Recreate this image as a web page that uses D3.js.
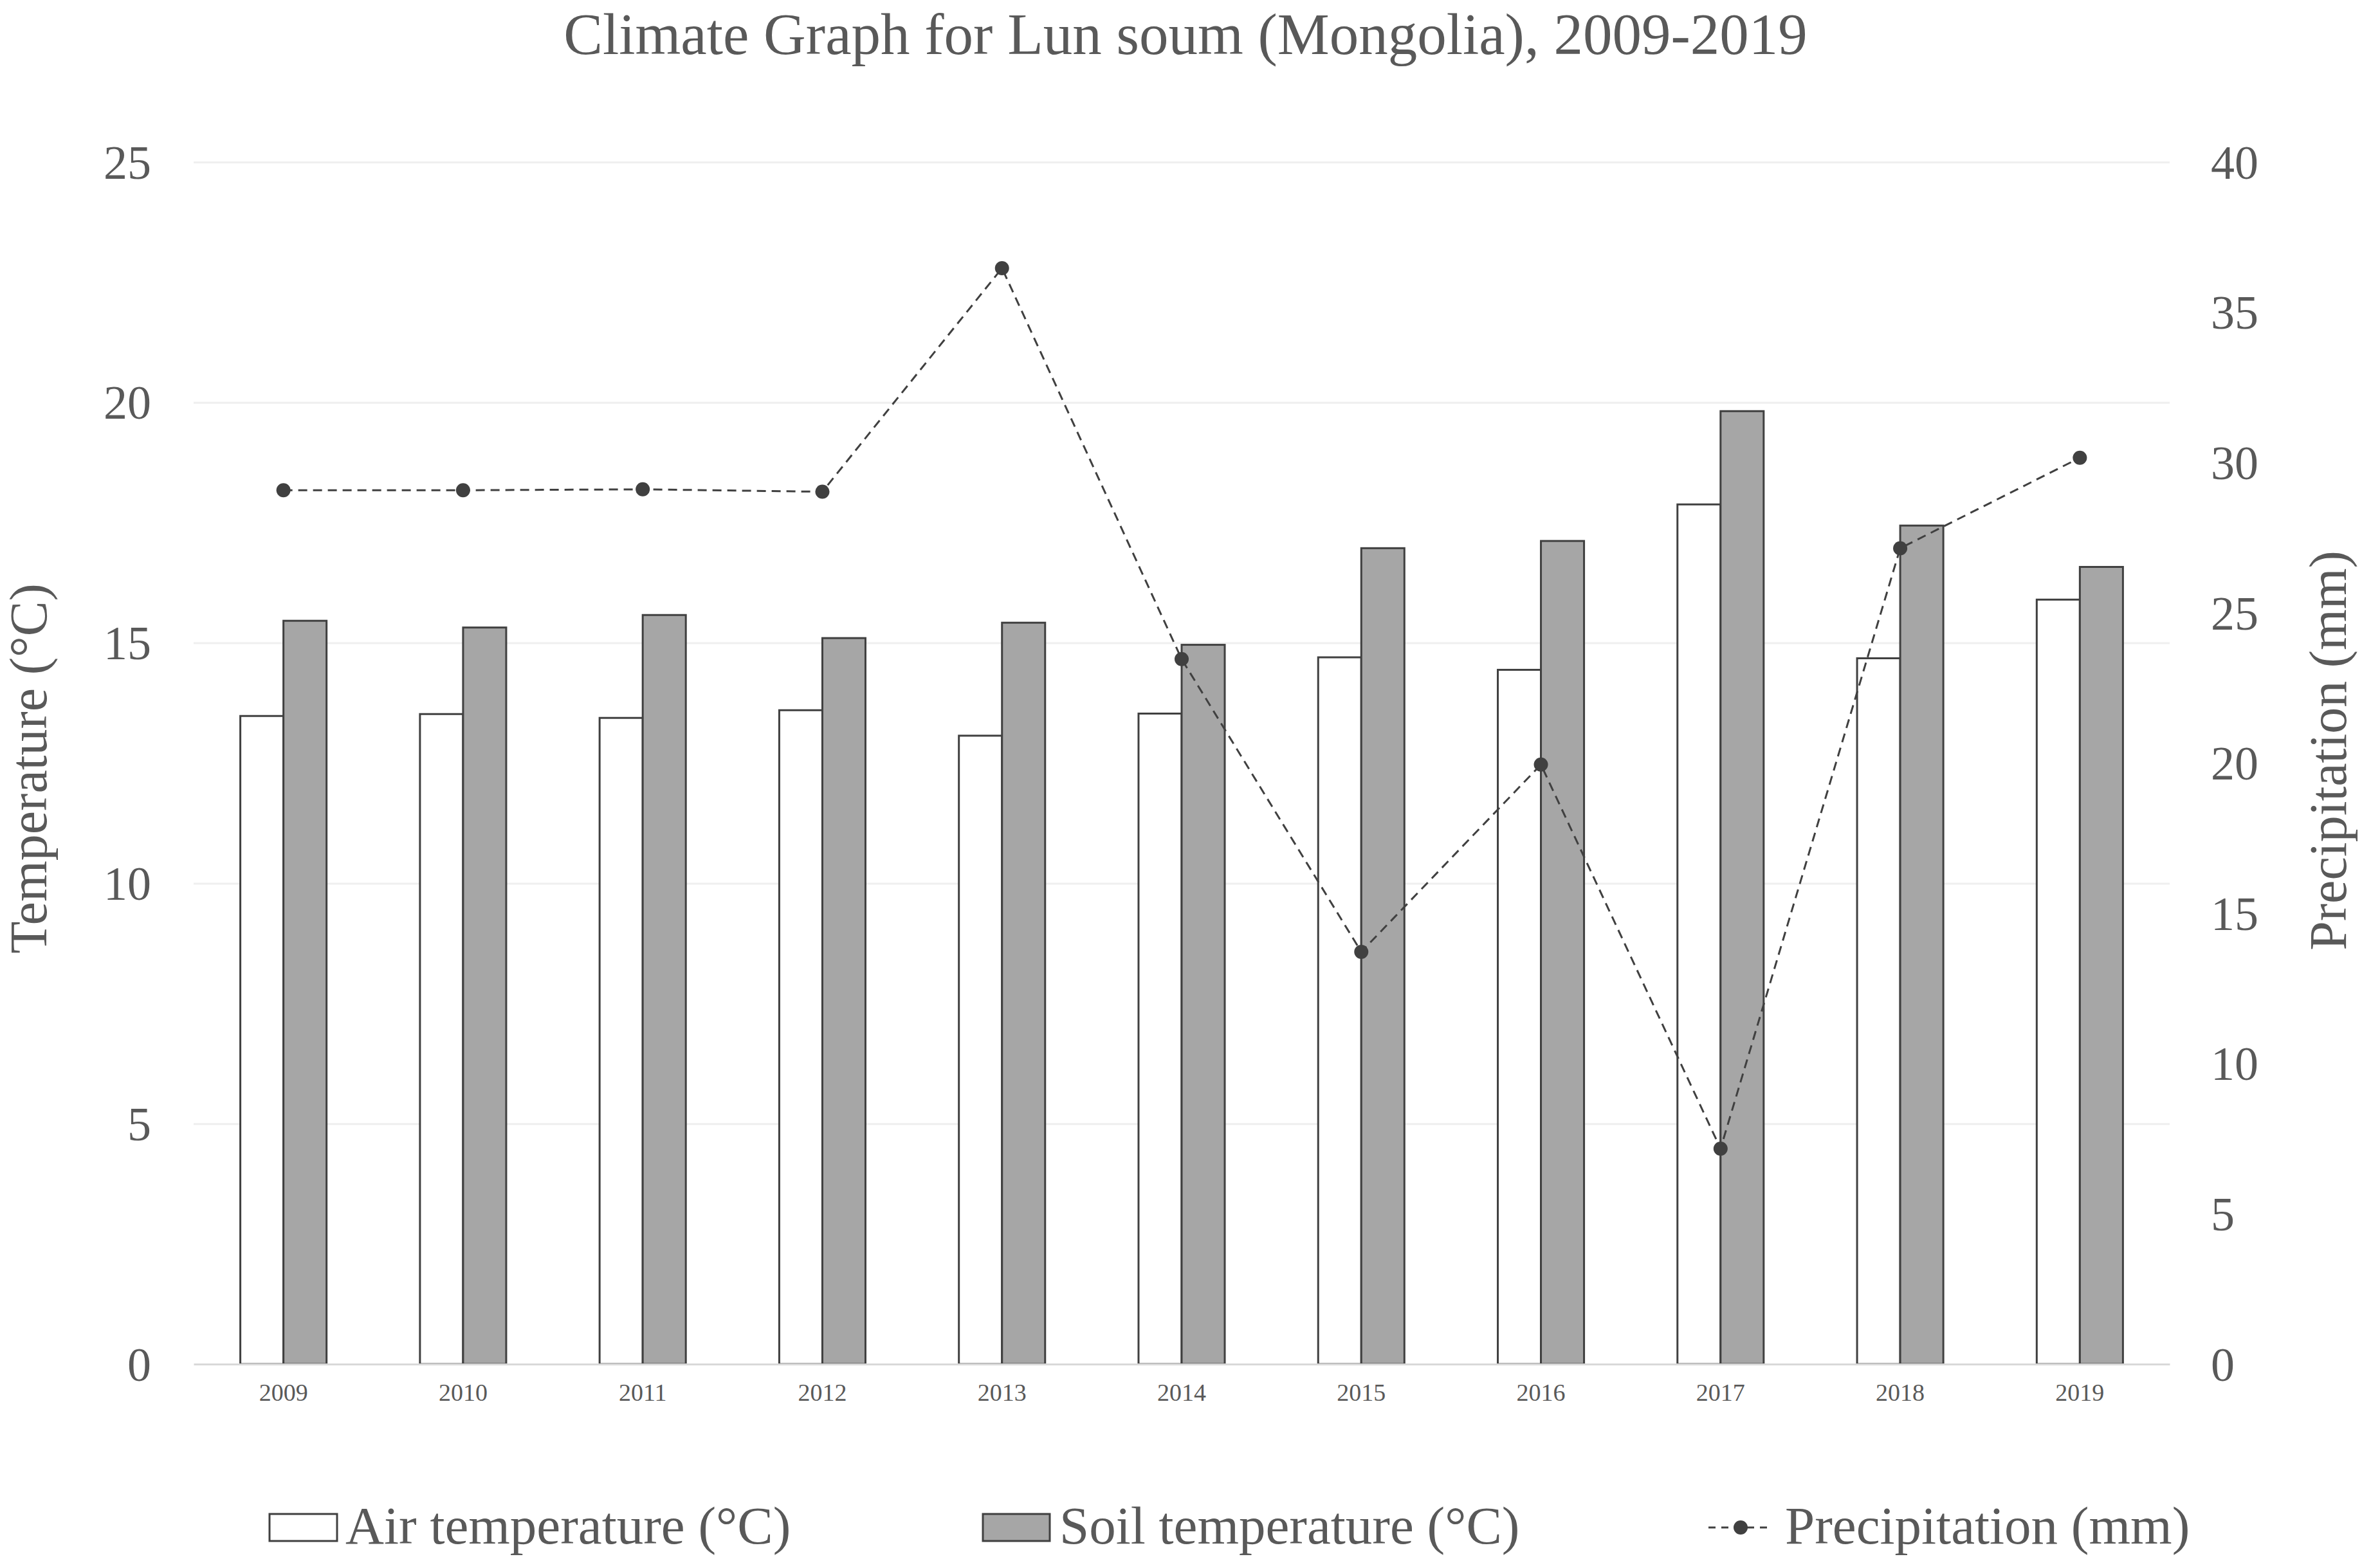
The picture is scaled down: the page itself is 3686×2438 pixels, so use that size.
<!DOCTYPE html>
<html>
<head>
<meta charset="utf-8">
<script src="https://cdn.jsdelivr.net/npm/d3@7"></script>
<style>
  html, body { margin: 0; padding: 0; background: #fff; }
  svg { display: block; }
  text { font-family: "Liberation Serif", "Times New Roman", serif; fill: #595959; }
</style>
</head>
<body>
<svg id="chart" width="3686" height="2438"></svg>
<script>
// ---- Data ----
const years = ["2009","2010","2011","2012","2013","2014","2015","2016","2017","2018","2019"];
const airTemp = [13.48, 13.52, 13.44, 13.60, 13.07, 13.53, 14.70, 14.44, 17.88, 14.68, 15.90];
const soilTemp = [15.46, 15.32, 15.58, 15.10, 15.42, 14.96, 16.97, 17.12, 19.82, 17.44, 16.58];
const precipitation = [29.08, 29.08, 29.11, 29.03, 36.47, 23.46, 13.72, 19.95, 7.17, 27.15, 30.16];
const tempTicks = [0, 5, 10, 15, 20, 25];
const precipTicks = [0, 5, 10, 15, 20, 25, 30, 35, 40];
const titleText = "Climate Graph for Lun soum (Mongolia), 2009-2019";
const leftAxisTitle = "Temperature (°C)";
const rightAxisTitle = "Precipitation (mm)";
const legendLabels = ["Air temperature (°C)", "Soil temperature (°C)", "Precipitation (mm)"];

// ---- Layout ----
const W = 3686, H = 2438;
const plotL = 301, plotR = 3373, plotT = 252, plotB = 2121;
const dark = "#404040", soilFill = "#a6a6a6", textCol = "#595959";

const svg = d3.select("#chart");
svg.append("rect").attr("width", W).attr("height", H).attr("fill", "#fff");

const x = d3.scaleBand().domain(years).range([plotL, plotR]).padding(0);
const yT = d3.scaleLinear().domain([0, 25]).range([plotB, plotT]);
const yP = d3.scaleLinear().domain([0, 40]).range([plotB, plotT]);

// Gridlines
const grid = svg.append("g").attr("transform", `translate(${plotL},0)`)
  .call(d3.axisLeft(yT).tickValues(tempTicks.filter(d => d > 0)).tickSize(-(plotR - plotL)).tickFormat(""));
grid.select(".domain").remove();
grid.selectAll(".tick line").attr("stroke", "#efefef").attr("stroke-width", 3);

// Left axis labels
const la = svg.append("g").attr("transform", `translate(${plotL},0)`)
  .call(d3.axisLeft(yT).tickValues(tempTicks).tickSize(0).tickPadding(66));
la.select(".domain").remove();
la.selectAll("text").attr("font-size", 74).attr("fill", textCol)
  .attr("font-family", "Liberation Serif").attr("dy", "0.34em");

// Right axis labels
const ra = svg.append("g").attr("transform", `translate(${plotR},0)`)
  .call(d3.axisRight(yP).tickValues(precipTicks).tickSize(0).tickPadding(64));
ra.select(".domain").remove();
ra.selectAll("text").attr("font-size", 74).attr("fill", textCol)
  .attr("font-family", "Liberation Serif").attr("dy", "0.34em");

// Bars
const bw = x.bandwidth() * 0.24;
const cx = d => x(d) + x.bandwidth() / 2;

svg.append("g").selectAll("rect").data(years).join("rect")
  .attr("x", (d) => cx(d) - bw)
  .attr("y", (d, i) => yT(airTemp[i]))
  .attr("width", bw)
  .attr("height", (d, i) => yT(0) - yT(airTemp[i]))
  .attr("fill", "#fff").attr("stroke", dark).attr("stroke-width", 3);

svg.append("g").selectAll("rect").data(years).join("rect")
  .attr("x", (d) => cx(d))
  .attr("y", (d, i) => yT(soilTemp[i]))
  .attr("width", bw)
  .attr("height", (d, i) => yT(0) - yT(soilTemp[i]))
  .attr("fill", soilFill).attr("stroke", dark).attr("stroke-width", 3);

// X axis
const xa = svg.append("g").attr("transform", `translate(0,${plotB})`)
  .call(d3.axisBottom(x).tickSize(0).tickPadding(30));
xa.select(".domain").attr("stroke", "#d9d9d9").attr("stroke-width", 3);
xa.selectAll("text").attr("font-size", 38).attr("fill", textCol).attr("font-family", "Liberation Serif");

// Precipitation line
const line = d3.line().x(d => cx(d.year)).y(d => yP(d.v));
const pData = years.map((yr, i) => ({ year: yr, v: precipitation[i] }));
svg.append("path").datum(pData)
  .attr("d", line).attr("fill", "none").attr("stroke", dark)
  .attr("stroke-width", 3).attr("stroke-dasharray", "14,9");
svg.append("g").selectAll("circle").data(pData).join("circle")
  .attr("cx", d => cx(d.year)).attr("cy", d => yP(d.v)).attr("r", 11).attr("fill", dark);

// Title
svg.append("text").attr("x", 1843).attr("y", 84).attr("text-anchor", "middle")
  .attr("font-size", 91).text(titleText);

// Axis titles
svg.append("text").attr("transform", "translate(72,1195) rotate(-90)")
  .attr("text-anchor", "middle").attr("font-size", 82).text(leftAxisTitle);
svg.append("text").attr("transform", "translate(3647,1167) rotate(-90)")
  .attr("text-anchor", "middle").attr("font-size", 82).text(rightAxisTitle);

// Legend
const lg = svg.append("g");
lg.append("rect").attr("x", 419).attr("y", 2354).attr("width", 105).attr("height", 42)
  .attr("fill", "#fff").attr("stroke", dark).attr("stroke-width", 3);
lg.append("text").attr("x", 537).attr("y", 2400).attr("font-size", 83).text(legendLabels[0]);

lg.append("rect").attr("x", 1528).attr("y", 2354).attr("width", 104).attr("height", 42)
  .attr("fill", soilFill).attr("stroke", dark).attr("stroke-width", 3);
lg.append("text").attr("x", 1647).attr("y", 2400).attr("font-size", 83).text(legendLabels[1]);

lg.append("line").attr("x1", 2656).attr("x2", 2752).attr("y1", 2375).attr("y2", 2375)
  .attr("stroke", dark).attr("stroke-width", 3).attr("stroke-dasharray", "11,9");
lg.append("circle").attr("cx", 2706).attr("cy", 2375).attr("r", 11).attr("fill", dark);
lg.append("text").attr("x", 2775).attr("y", 2400).attr("font-size", 83).text(legendLabels[2]);
</script>
</body>
</html>
